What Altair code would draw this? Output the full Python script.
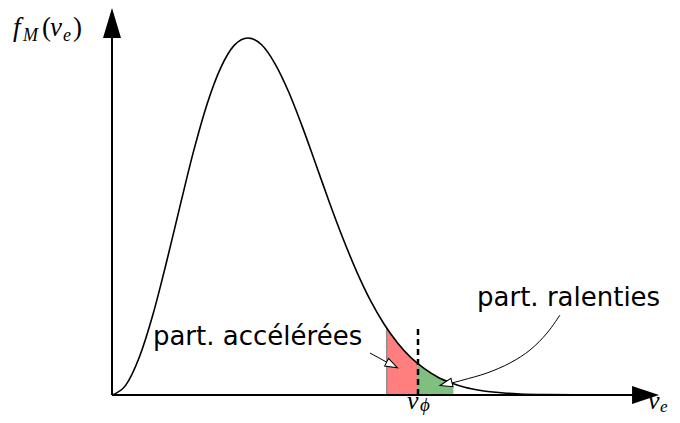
import altair as alt
import pandas as pd

# Maxwell distribution curve (velocity in units of the most probable speed, normalised height)
curve_v = [0.0, 0.1, 0.2, 0.3, 0.4, 0.5, 0.6, 0.7, 0.8, 0.9, 1.0, 1.1, 1.2, 1.3, 1.4,
           1.5, 1.6, 1.7, 1.8, 1.9, 2.0, 2.1, 2.2, 2.3, 2.4, 2.5, 2.6, 2.7, 2.8, 2.9,
           3.0, 3.2, 3.4, 3.6, 3.8]
curve_f = [0.0, 0.027, 0.105, 0.224, 0.371, 0.529, 0.683, 0.816, 0.917, 0.980, 1.0,
           0.981, 0.927, 0.848, 0.751, 0.645, 0.538, 0.437, 0.345, 0.265, 0.199,
           0.146, 0.104, 0.073, 0.049, 0.033, 0.021, 0.0135, 0.0084, 0.0051,
           0.0030, 0.0010, 0.0003, 0.0001, 0.0]

# accelerated particles (red) and slowed particles (green)
red_v = [2.02, 2.1, 2.2, 2.25]
red_f = [0.1875, 0.146, 0.104, 0.087]
green_v = [2.25, 2.3, 2.4, 2.5, 2.51]
green_f = [0.087, 0.073, 0.049, 0.033, 0.0315]

v_phi = 2.25
v_phi_top = 0.188

# annotation pointers
acc_v = [1.897, 2.059]
acc_f = [0.1176, 0.084]
ral_v = [3.294, 3.199, 3.074, 2.926, 2.757, 2.581, 2.470]
ral_f = [0.2241, 0.1737, 0.1261, 0.0896, 0.0616, 0.0420, 0.0308]

xs = alt.Scale(domain=[-0.7647, 4.1176], nice=False, zero=False)
ys = alt.Scale(domain=[-0.0560, 1.0840], nice=False, zero=False)

def X(f="v"):
    return alt.X(f"{f}:Q", scale=xs, axis=None)

def Y(f="f"):
    return alt.Y(f"{f}:Q", scale=ys, axis=None)

def XD(d):
    return alt.X(datum=d, scale=xs, axis=None)

def YD(d):
    return alt.Y(datum=d, scale=ys, axis=None)

dummy = pd.DataFrame({"a": [0]})

curve = alt.Chart(pd.DataFrame({"v": curve_v, "f": curve_f})).mark_line(
    color="black", strokeWidth=1.6, interpolate="monotone"
).encode(x=X(), y=Y())

red = alt.Chart(pd.DataFrame({"v": red_v, "f": red_f})).mark_area(
    color="#ff7f7f", interpolate="monotone", opacity=1
).encode(x=X(), y=Y(), y2=alt.datum(0))

green = alt.Chart(pd.DataFrame({"v": green_v, "f": green_f})).mark_area(
    color="#7fbf7f", interpolate="monotone", opacity=1
).encode(x=X(), y=Y(), y2=alt.datum(0))

red_edge = alt.Chart(dummy).mark_rule(color="#777777", strokeWidth=1).encode(
    x=XD(red_v[0]), y=YD(0), y2=alt.datum(red_f[0])
)

dash = alt.Chart(dummy).mark_rule(color="black", strokeWidth=2.5, strokeDash=[6, 4]).encode(
    x=XD(v_phi), y=YD(0), y2=alt.datum(v_phi_top)
)

xaxis = alt.Chart(dummy).mark_rule(color="black", strokeWidth=2).encode(
    x=XD(0), x2=alt.datum(3.85), y=YD(0)
)
yaxis = alt.Chart(dummy).mark_rule(color="black", strokeWidth=2).encode(
    x=XD(0), y=YD(0), y2=alt.datum(1.02)
)

xhead = alt.Chart(dummy).mark_point(
    shape="M1,0 L-1,-0.667 L-1,0.667 Z", size=729, filled=True, color="black", opacity=1
).encode(x=XD(3.923), y=YD(0))
yhead = alt.Chart(dummy).mark_point(
    shape="M0,-1 L0.6,1 L-0.6,1 Z", size=900, filled=True, color="black", opacity=1
).encode(x=XD(0), y=YD(1.042))

acc_line = alt.Chart(pd.DataFrame({"v": acc_v, "f": acc_f})).mark_line(
    color="black", strokeWidth=1
).encode(x=X(), y=Y())
acc_head = alt.Chart(dummy).mark_point(
    shape="M1,0 L-1,-0.7 L-1,0.7 Z", size=150, filled=True, fill="white",
    stroke="black", strokeWidth=1, opacity=1, angle=27
).encode(x=XD(acc_v[-1]), y=YD(acc_f[-1]))

ral_line = alt.Chart(pd.DataFrame({"v": ral_v, "f": ral_f, "i": list(range(len(ral_v)))})).mark_line(
    color="black", strokeWidth=1, interpolate="cardinal"
).encode(x=X(), y=Y(), order="i:Q")
ral_head = alt.Chart(dummy).mark_point(
    shape="M1,0 L-1,-0.7 L-1,0.7 Z", size=150, filled=True, fill="white",
    stroke="black", strokeWidth=1, opacity=1, angle=166
).encode(x=XD(2.456), y=YD(0.0308))

# labels
ann_text = ["part. accélérées", "part. ralenties"]
ann_v = [0.301, 2.684]
ann_f = [0.1401, 0.2493]
ann = alt.Chart(pd.DataFrame({"v": ann_v, "f": ann_f, "t": ann_text})).mark_text(
    font="DejaVu Sans", fontSize=26, align="left", baseline="alphabetic", color="black"
).encode(x=X(), y=Y(), text="t:N")

math_it_text = ["f", "M", "v", "e", "v", "e", "v", "ϕ"]
math_it_v = [-0.728, -0.654, -0.456, -0.360, 3.941, 4.029, 2.169, 2.265]
math_it_f = [1.0056, 0.9916, 1.0056, 0.9916, -0.0392, -0.0476, -0.0392, -0.0448]
math_it_size = [27, 18, 27, 18, 26, 17, 26, 19]
math_it = alt.Chart(pd.DataFrame({"v": math_it_v, "f": math_it_f, "t": math_it_text,
                                  "s": math_it_size})).mark_text(
    font="Liberation Serif", fontStyle="italic", align="left", baseline="alphabetic", color="black"
).encode(x=X(), y=Y(), text="t:N", size=alt.Size("s:Q", scale=None, legend=None))

math_up_text = ["(", ")"]
math_up_v = [-0.515, -0.287]
math_up_f = [1.0056, 1.0056]
math_up = alt.Chart(pd.DataFrame({"v": math_up_v, "f": math_up_f, "t": math_up_text})).mark_text(
    font="Liberation Serif", fontSize=27, align="left", baseline="alphabetic", color="black"
).encode(x=X(), y=Y(), text="t:N")

chart = alt.layer(
    red, green, red_edge, xaxis, yaxis, xhead, yhead, curve, dash,
    acc_line, acc_head, ral_line, ral_head, ann, math_it, math_up
).properties(
    width=664, height=407, padding=0, autosize=alt.AutoSizeParams(type="none"),
    background="white"
).configure_view(stroke=None)

chart.save("out.html", embed_options={"renderer": "svg", "actions": False})
